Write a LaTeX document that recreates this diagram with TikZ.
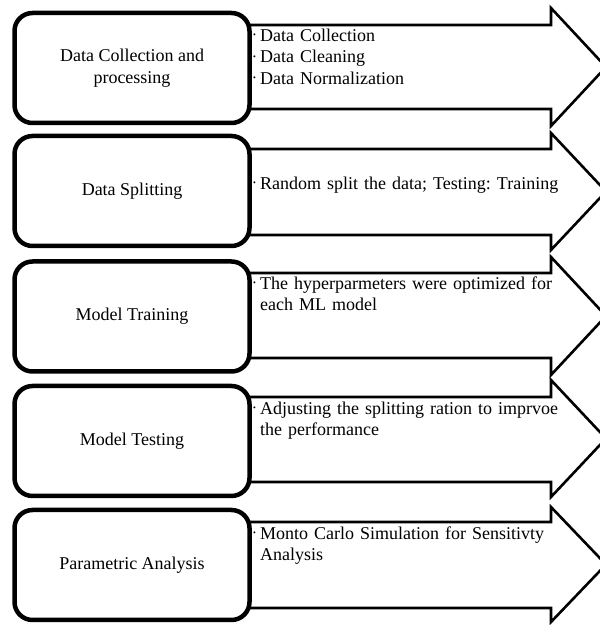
\documentclass[tikz,border=0pt]{standalone}
\usepackage{fontspec}
\setmainfont{Liberation Serif}
\frenchspacing
\newcommand{\itemdot}{\makebox[7bp][l]{\raisebox{3.5bp}{\fontsize{8bp}{8bp}\selectfont\textbullet}}}
\newcommand{\itemgap}{\hspace*{7bp}}
\tikzset{
  stage/.style={draw,rectangle,rounded corners=18bp,line width=4.5bp,fill=white,minimum width=235bp,minimum height=110bp,align=center},
  blockarrow/.style={draw,line width=2.6bp,fill=white,line join=miter},
  note/.style={anchor=north west,inner sep=0pt,align=left,text width=320bp}
}
\begin{document}
\begin{tikzpicture}[font=\fontsize{18bp}{21.6bp}\selectfont]
  \clip (0bp,0bp) rectangle (600bp,625bp);
  %%
  \draw [blockarrow] (240bp,600bp) -- (551bp,600bp) -- (551bp,617bp) -- (606bp,558bp) -- (551bp,499bp) -- (551bp,516bp) -- (240bp,516bp) -- cycle;
  \draw [blockarrow] (240bp,476bp) -- (551bp,476bp) -- (551bp,492bp) -- (606bp,433.5bp) -- (551bp,375bp) -- (551bp,390bp) -- (240bp,390bp) -- cycle;
  \draw [blockarrow] (240bp,352bp) -- (551bp,352bp) -- (551bp,368bp) -- (606bp,309bp) -- (551bp,250bp) -- (551bp,267bp) -- (240bp,267bp) -- cycle;
  \draw [blockarrow] (240bp,228bp) -- (551bp,228bp) -- (551bp,245bp) -- (606bp,186.5bp) -- (551bp,128bp) -- (551bp,143bp) -- (240bp,143bp) -- cycle;
  \draw [blockarrow] (240bp,103bp) -- (551bp,103bp) -- (551bp,118bp) -- (606bp,60.5bp) -- (551bp,3bp) -- (551bp,17bp) -- (240bp,17bp) -- cycle;
  %%
  \node (Collect) at (132bp,557bp) [stage] {Data Collection and\\processing};
  \node (Split) at (132bp,434bp) [stage] {Data Splitting};
  \node (Train) at (132bp,308.5bp) [stage] {Model Training};
  \node (Test) at (132bp,184bp) [stage] {Model Testing};
  \node (Param) at (132bp,60bp) [stage] {Parametric Analysis};
  %%
  \node (CollectNote) at (253bp,596.5bp) [note] {\itemdot Data Collection\\\itemdot Data Cleaning\\\itemdot Data Normalization};
  \node (SplitNote) at (253bp,448.5bp) [note] {\itemdot Random split the data; Testing: Training};
  \node (TrainNote) at (253bp,348.5bp) [note] {\itemdot The hyperparmeters were optimized for\\\itemgap each ML model};
  \node (TestNote) at (253bp,223.5bp) [note] {\itemdot Adjusting the splitting ration to imprvoe\\\itemgap the performance};
  \node (ParamNote) at (253bp,98.5bp) [note] {\itemdot Monto Carlo Simulation for Sensitivty\\\itemgap Analysis};
  %
\end{tikzpicture}
\end{document}
